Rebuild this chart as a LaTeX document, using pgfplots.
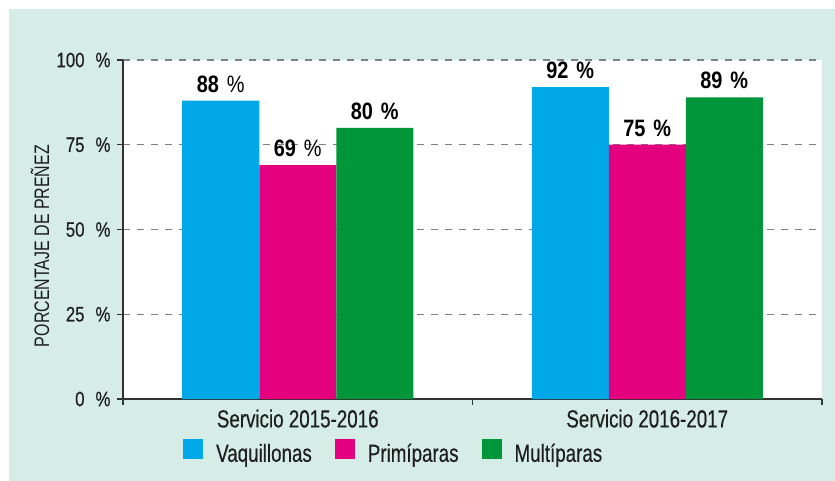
\documentclass[border=0pt]{standalone}
\usepackage{fontspec}
\setmainfont{Liberation Sans}[FakeStretch=0.76, FakeBold=0.4]
\newfontfamily\yfont{Liberation Sans}[FakeStretch=0.80, FakeBold=0.4]
\newfontfamily\lfont{Liberation Sans}[FakeStretch=0.84]
\newfontfamily\ylfont{Liberation Sans}[FakeStretch=0.76]
\usepackage{pgfplots}
\pgfplotsset{compat=1.18}
\definecolor{mint}{RGB}{214,236,230}
\definecolor{cblue}{RGB}{0,168,232}
\definecolor{cpink}{RGB}{229,0,127}
\definecolor{cgreen}{RGB}{0,150,57}
\definecolor{txt}{RGB}{30,30,30}
\newcommand\fx{\fontsize{24.7bp}{28bp}\selectfont}
\newcommand\fy{\yfont\fontsize{21bp}{25bp}\selectfont}
\newcommand\fl{\lfont\fontsize{23.7bp}{27bp}\selectfont}
\begin{document}
\begin{tikzpicture}
\path[use as bounding box] (-123bp,-82bp) rectangle (712bp,399bp);
\fill[mint] (-114bp,-82bp) rectangle (712bp,390bp);
\begin{axis}[
  scale only axis, width=699bp, height=339bp,
  xmin=-0.5, xmax=1.5, ymin=0, ymax=100,
  axis background/.style={fill=white},
  axis x line*=bottom, axis y line*=left,
  axis line style={draw=black!80, line width=1.5bp},
  ybar=0pt, bar width=77bp,
  xtick={0,1}, xticklabels={Servicio 2015-2016, Servicio 2016-2017},
  major x tick style={draw=none},
  minor xtick={-0.5,0.5,1.5},
  minor x tick style={draw=black!80, line width=1.2bp},
  minor tick length=6bp,
  ytick={0,25,50,75,100},
  y tick style={draw=black!80, line width=1.2bp},
  tick align=outside, major tick length=6bp,
  /pgf/number format/assume math mode=true,
  yticklabel={\pgfmathprintnumber{\tick}\hspace{11bp}\%},
  yticklabel style={font=\fy, text=txt, xshift=-3bp},
  xticklabel style={font=\fx, text=txt, yshift=-1bp},
  ymajorgrids, grid style={draw=black!50, line width=1.3bp, dash pattern=on 7bp off 7bp},
  ylabel={PORCENTAJE DE PREÑEZ},
  ylabel style={font=\ylfont\fontsize{21bp}{24bp}\selectfont, text=txt, at={(axis description cs:-0.1187,0.451)}, anchor=center},
  point meta=explicit symbolic,
  nodes near coords={\pgfplotspointmeta},
  every node near coord/.append style={font=\fl, text=black, inner sep=8bp},
  legend style={draw=none, fill=none, inner sep=0pt, at={(0.0858,-0.1593)}, anchor=west,
    nodes={inner sep=0pt, font=\fx, text=txt, text height=18bp, text depth=5bp},
    /tikz/every odd column/.append style={column sep=13bp},
    /tikz/every even column/.append style={column sep=23bp}},
  legend columns=3,
  legend image code/.code={\fill[#1] (0bp,-4bp) rectangle (20bp,16bp);},
]
\addplot[fill=cblue, draw=none] coordinates {(0,88) [\textbf{88}\hspace{8bp}\%] (1,92) [\textbf{92\hspace{8bp}\%}]};
\addplot[fill=cpink, draw=none] coordinates {(0,69) [\textbf{69}\hspace{8bp}\%] (1,75) [\textbf{75\hspace{8bp}\%}]};
\addplot[fill=cgreen, draw=none] coordinates {(0,80) [\textbf{80\hspace{8bp}\%}] (1,89) [\textbf{89\hspace{8bp}\%}]};
\legend{Vaquillonas, Primíparas, Multíparas}
\end{axis}
\end{tikzpicture}
\end{document}
